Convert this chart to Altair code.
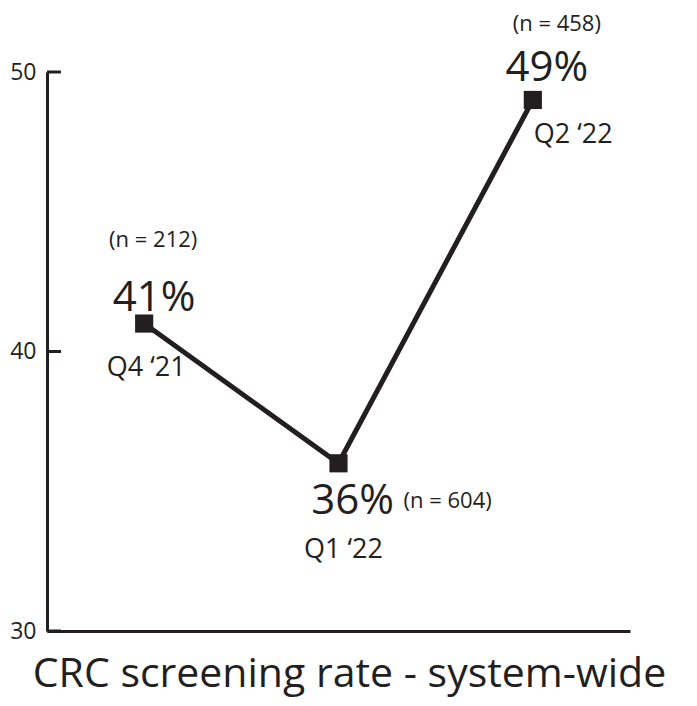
import altair as alt
import pandas as pd

quarters = ["Q4 ‘21", "Q1 ‘22", "Q2 ‘22"]
rates = [41, 36, 49]
counts = [212, 604, 458]
y_ticks = [30, 40, 50]

INK = "#231f20"
FONT = "Open Sans"

df = pd.DataFrame({
    "quarter": quarters,
    "rate": rates,
    "n": counts,
})
df["pct"] = df["rate"].astype(str) + "%"
df["nlab"] = "(n = " + df["n"].astype(str) + ")"

x_enc = alt.X("quarter:N", sort=quarters,
              scale=alt.Scale(type="point", padding=0.5),
              axis=alt.Axis(labels=False, ticks=False, domain=True, grid=False,
                            domainColor=INK, domainWidth=3,
                            title="CRC screening rate - system-wide",
                            titleFont=FONT, titleFontSize=41, titleFontWeight="normal",
                            titleColor=INK, titleBaseline="alphabetic",
                            titleAlign="center", titleX=302, titleY=55))
y_enc = alt.Y("rate:Q", scale=alt.Scale(domain=[30, 50], nice=False, zero=False),
              axis=alt.Axis(values=y_ticks, ticks=False, grid=False, domain=True,
                            domainColor=INK, domainWidth=3,
                            labelFont=FONT, labelFontSize=23, labelColor=INK,
                            labelPadding=11, title=None))

base = alt.Chart(df).encode(x=x_enc, y=y_enc)

line = base.mark_line(color=INK, strokeWidth=5)
pts = base.mark_square(color=INK, size=330, opacity=1, filled=True)

tick_df = pd.DataFrame({"t": y_ticks})
ticks = alt.Chart(tick_df).mark_rule(color=INK, strokeWidth=3).encode(
    y=alt.Y("t:Q"), x=alt.value(0), x2=alt.value(14))

def lab(q, field, size, dx, dy, align="center"):
    return base.transform_filter(alt.datum.quarter == q).mark_text(
        font=FONT, fontSize=size, color=INK, dx=dx, dy=dy, align=align,
        baseline="alphabetic").encode(text=f"{field}:N")

labels = [
    lab(quarters[0], "pct", 42, 10, -13),
    lab(quarters[0], "nlab", 22, 9, -77),
    lab(quarters[0], "quarter", 27, 2, 52),
    lab(quarters[1], "pct", 42, 14, 51),
    lab(quarters[1], "nlab", 22, 65, 45, "left"),
    lab(quarters[1], "quarter", 27, 5, 95),
    lab(quarters[2], "pct", 42, 14, -19),
    lab(quarters[2], "nlab", 22, 24, -69),
    lab(quarters[2], "quarter", 27, 1, 43, "left"),
]

chart = alt.layer(line, pts, ticks, *labels).properties(
    width=583, height=559,
    autosize=alt.AutoSizeParams(type="none"),
    padding={"left": 39, "top": 64, "right": 59, "bottom": 67},
).configure(background="white").configure_view(stroke=None)

chart.save("out.html", embed_options={"renderer": "svg", "actions": False})
